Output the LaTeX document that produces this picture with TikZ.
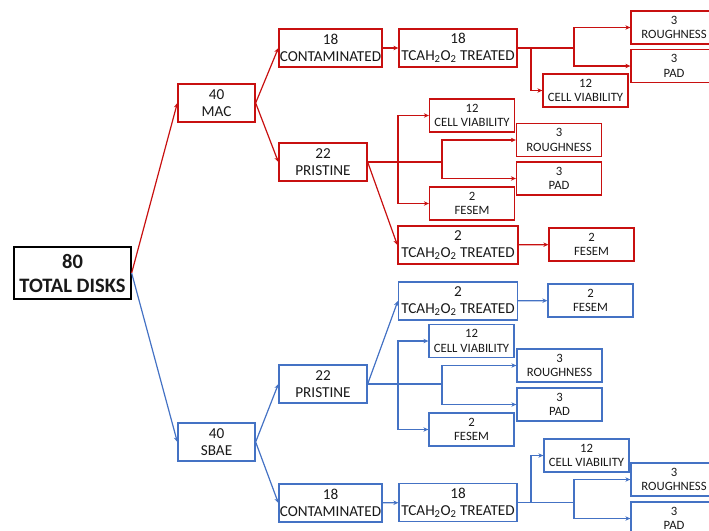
\documentclass[tikz,border=0pt]{standalone}
\usepackage{fontspec}
\setmainfont{Carlito}
\usepackage{tikz}
\usepackage{xcolor}
\usetikzlibrary{arrows.meta}
\definecolor{macred}{RGB}{200,16,16}
\definecolor{sbaeblue}{RGB}{68,114,196}
\tikzstyle{boxes} = [rectangle, line width=1.3pt, inner sep=0pt, align=center, text=black!90,
font=\fontsize{15.2}{17}\selectfont, minimum height=38pt]
\tikzstyle{smallbox} = [boxes, minimum width=85pt, minimum height=33pt, font=\fontsize{12.7}{14.5}\selectfont]
\tikzstyle{rbox} = [draw=macred]
\tikzstyle{bbox} = [draw=sbaeblue]
\tikzstyle{arrow} = [line width=1.2pt, -{Stealth[length=5pt,width=4.5pt]}]
\tikzstyle{rarrow} = [arrow, draw=macred]
\tikzstyle{barrow} = [arrow, draw=sbaeblue]

\begin{document}
\begin{tikzpicture}[x=1pt, y=-1pt]
            \useasboundingbox (0,0) rectangle (709,530);
            % Draw Boxes
            \node(total) [boxes, draw=black, minimum width=117pt, minimum height=52pt, font=\fontsize{20.5}{24}\selectfont\bfseries] at (72.5,273) {80\\TOTAL DISKS};
            \node(mac) [boxes, rbox, minimum width=77pt] at (216.5,103) {40\\MAC};
            \node(sbae) [boxes, bbox, minimum width=77pt] at (216.5,442) {40\\SBAE};

            % MAC side
            \node(rcon) [boxes, rbox, minimum width=103pt] at (330.5,48) {18\\CONTAMINATED};
            \node(rtr18) [boxes, rbox, minimum width=118pt] at (458,48) {18\\TCAH\textsubscript{2}O\textsubscript{2} TREATED};
            \node(rro18) [smallbox, rbox, minimum width=86pt] at (674,27.5) {3\\ROUGHNESS};
            \node(rpad18) [smallbox, rbox, minimum width=86pt] at (674,66) {3\\PAD};
            \node(rcv18) [smallbox, rbox] at (585.5,90.5) {12\\CELL VIABILITY};
            \node(rpri) [boxes, rbox, minimum width=88pt] at (323,162) {22\\PRISTINE};
            \node(rcv) [smallbox, rbox] at (472,115.5) {12\\CELL VIABILITY};
            \node(rro) [smallbox, rbox] at (559,140) {3\\ROUGHNESS};
            \node(rpad) [smallbox, rbox] at (559,178.5) {3\\PAD};
            \node(rfe) [smallbox, rbox] at (472,203.5) {2\\FESEM};
            \node(rtr2) [boxes, rbox, minimum width=120pt] at (458,245) {2\\TCAH\textsubscript{2}O\textsubscript{2} TREATED};
            \node(rfe2) [smallbox, rbox] at (591.5,244.5) {2\\FESEM};

            % SBAE side
            \node(btr2) [boxes, bbox, minimum width=119pt] at (458,301) {2\\TCAH\textsubscript{2}O\textsubscript{2} TREATED};
            \node(bfe2) [smallbox, bbox] at (590.5,300.5) {2\\FESEM};
            \node(bpri) [boxes, bbox, minimum width=88pt] at (323,384) {22\\PRISTINE};
            \node(bcv) [smallbox, bbox] at (471.5,341) {12\\CELL VIABILITY};
            \node(bro) [smallbox, bbox] at (559.5,365.5) {3\\ROUGHNESS};
            \node(bpad) [smallbox, bbox] at (559.5,404.5) {3\\PAD};
            \node(bfe) [smallbox, bbox] at (471.5,429.5) {2\\FESEM};
            \node(bcon) [boxes, bbox, minimum width=103pt] at (330.5,503) {18\\CONTAMINATED};
            \node(btr18) [boxes, bbox, minimum width=118pt] at (458,502.5) {18\\TCAH\textsubscript{2}O\textsubscript{2} TREATED};
            \node(bcv18) [smallbox, bbox] at (586.5,455.5) {12\\CELL VIABILITY};
            \node(bro18) [smallbox, bbox, minimum width=86pt] at (674,479.5) {3\\ROUGHNESS};
            \node(bpad18) [smallbox, bbox, minimum width=86pt] at (674,518.5) {3\\PAD};

            % Branch points
            \coordinate(rj1) at (531,48);
            \coordinate(rj2) at (574,48);
            \coordinate(rpj1) at (398,162);
            \coordinate(rpj2) at (442,162);
            \coordinate(bpj1) at (398,384);
            \coordinate(bpj2) at (442,384);
            \coordinate(bj1) at (531,502.5);
            \coordinate(bj2) at (574,502.5);

            % Draw Arrows
            \draw[rarrow] (total.east) -- (mac.west);
            \draw[barrow] (total.east) -- (sbae.west);

            \draw[rarrow] (mac.east) -- (rcon.west);
            \draw[rarrow] (mac.east) -- (rpri.west);
            \draw[rarrow] (rcon) -- (rtr18);
            \draw[rarrow] (rtr18.east) -- (rj2) |- (rro18.west);
            \draw[rarrow] (rj2) |- (rpad18.west);
            \draw[rarrow] (rj1) |- (rcv18.west);
            \draw[rarrow] (rpri.east) -- (rpj1) |- (rcv.west);
            \draw[rarrow] (rpj1) |- (rfe.west);
            \draw[rarrow] (rpj1) -- (rpj2) |- (rro.west);
            \draw[rarrow] (rpj2) |- (rpad.west);
            \draw[rarrow] (rpri.east) -- (rtr2.west);
            \draw[rarrow] (rtr2) -- (rfe2);

            \draw[barrow] (sbae.east) -- (bpri.west);
            \draw[barrow] (sbae.east) -- (bcon.west);
            \draw[barrow] (bpri.east) -- (btr2.west);
            \draw[barrow] (btr2) -- (bfe2);
            \draw[barrow] (bpri.east) -- (bpj1) |- (bcv.west);
            \draw[barrow] (bpj1) |- (bfe.west);
            \draw[barrow] (bpj1) -- (bpj2) |- (bro.west);
            \draw[barrow] (bpj2) |- (bpad.west);
            \draw[barrow] (bcon) -- (btr18);
            \draw[barrow] (btr18.east) -- (bj2) |- (bro18.west);
            \draw[barrow] (bj2) |- (bpad18.west);
            \draw[barrow] (bj1) |- (bcv18.west);
        \end{tikzpicture}
\end{document}
